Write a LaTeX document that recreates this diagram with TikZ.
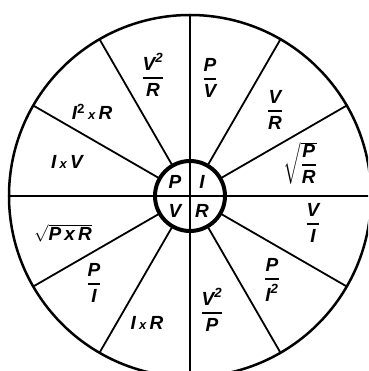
\documentclass[tikz,border=0pt]{standalone}
\usepackage{amsmath}
\usepackage{fontspec}
\setmainfont{Liberation Sans}
\usetikzlibrary{calc}

\newcommand{\elq}[1]{\textit{#1}}
\newcommand{\byx}{\,{\fontsize{13}{13}\selectfont x}\,}
\newcommand{\frc}[2]{\genfrac{}{}{1.6pt}{0}{#1}{#2}}

\begin{document}
\begin{tikzpicture}[
      x=1pt, y=1pt,
      rim/.style={
        circle, draw=black, line width=2.5pt,
        minimum size=362pt, inner sep=0pt, outer sep=0pt
      },
      hub/.style={
        circle, draw=black, line width=4pt,
        minimum size=70pt, inner sep=0pt, outer sep=0pt
      },
      spoke/.style={line width=1.8pt, black},
      axis/.style={line width=2.4pt, black},
      lbl/.style={font=\fontsize{19}{21}\selectfont\bfseries\itshape, inner sep=0pt}
    ]
      \useasboundingbox (-190,-175) rectangle (178,196);
      \clip (-190,-175) rectangle (178,196);

      % Circles
      \node[rim] (rim) at (0,0) {};
      \draw[axis] (rim.west) -- (rim.east);
      \draw[axis] (rim.north) -- (rim.south);
      \node[hub] (hub) at (0,0) {};

      % Spokes
      \foreach \ang in {30,60,120,150,210,240,300,330}
        \draw[spoke] (hub.\ang) -- (rim.\ang);

      % Centre letters
      \node[lbl] (cP) at (-15,14) {P};
      \node[lbl] (cI) at (12,14) {I};
      \node[lbl] (cV) at (-15,-15) {V};
      \node[lbl] (cR) at (12,-15) {R};

      % Formulas
      \node[lbl] (pv) at (20,118) {$\frc{\elq{P}}{\elq{V}}$};
      \node[lbl] (vvr) at (-37,121) {$\frc{\elq{V}^{\text{2}}}{\elq{R}}$};
      \node[lbl] (vr) at (85,86) {$\frc{\elq{V}}{\elq{R}}$};
      \node[lbl] (rpr) at (110,33) {$\sqrt{\frc{\elq{P}}{\elq{R}}}$};
      \node[lbl] (vi) at (123,-27) {$\frc{\elq{V}}{\elq{I}}$};
      \node[lbl] (pii) at (82,-84) {$\frc{\elq{P}}{\elq{I}^{\text{2}}}$};
      \node[lbl] (vvp) at (22,-114) {$\frc{\elq{V}^{\text{2}}}{\elq{P}}$};
      \node[lbl] (ir) at (-43,-127) {I\byx R};
      \node[lbl] (pi) at (-96,-87) {$\frc{\elq{P}}{\elq{I}}$};
      \node[lbl] (rpxr) at (-127,-37) {$\sqrt{\elq{P\,x\,R}}$};
      \node[lbl] (iv) at (-123,34) {I\byx V};
      \node[lbl] (iir) at (-98,84) {I\textsuperscript{\upshape 2}\byx R};
    \end{tikzpicture}
\end{document}
